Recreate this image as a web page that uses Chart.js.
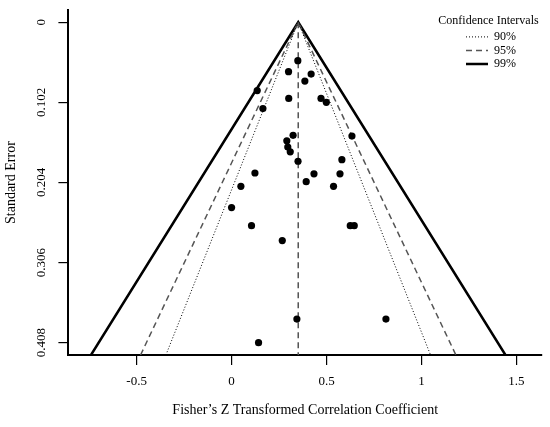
<!DOCTYPE html>
<html>
<head>
<meta charset="utf-8">
<script src="https://cdn.jsdelivr.net/npm/chart.js@4/dist/chart.umd.min.js"></script>
<style>
  body { margin: 0; background: #fff; }
  canvas { display: block; }
</style>
</head>
<body>
<canvas id="funnel" width="550" height="427"></canvas>
<script>
// study effects (Fisher's Z) and their standard errors
const effects = [0.349, 0.300, 0.419, 0.386, 0.135, 0.301, 0.471, 0.499, 0.165,
                 0.324, 0.291, 0.296, 0.309, 0.350, 0.634, 0.581, 0.123, 0.434,
                 0.571, 0.393, 0.049, 0.537, 0.000, 0.105, 0.625, 0.646, 0.267,
                 0.344, 0.813, 0.142];
const stdErrors = [0.049, 0.063, 0.066, 0.075, 0.087, 0.097, 0.097, 0.102, 0.110,
                   0.144, 0.151, 0.159, 0.165, 0.177, 0.145, 0.175, 0.192, 0.193,
                   0.193, 0.203, 0.209, 0.209, 0.236, 0.259, 0.259, 0.259, 0.278,
                   0.378, 0.378, 0.408];

const pooled = 0.351;                 // summary effect (funnel apex)
const ciLabels = ['90%', '95%', '99%'];
const ciZ = [1.645, 1.96, 2.576];

const xTicks = [-0.5, 0, 0.5, 1, 1.5];
const yTicks = [0, 0.102, 0.204, 0.306, 0.408];
const xMin = -0.8595, xMax = 1.635;
const yMin = -0.0153, yMax = 0.4237;

const serif = "'Liberation Serif', 'Times New Roman', serif";
Chart.defaults.color = '#000';
Chart.defaults.font.family = serif;

// funnel edges go from the bottom of the plot up to the apex and back down
function funnel(z) {
  return [
    { x: pooled - z * yMax, y: yMax },
    { x: pooled, y: 0 },
    { x: pooled + z * yMax, y: yMax }
  ];
}

const lineStyles = [
  { borderColor: '#000', borderWidth: 1, borderDash: [1, 2] },
  { borderColor: '#555', borderWidth: 1.5, borderDash: [6, 4] },
  { borderColor: '#000', borderWidth: 2.5, borderDash: [] }
];

const datasets = [
  {
    label: 'studies',
    data: effects.map((e, i) => ({ x: e, y: stdErrors[i] })),
    backgroundColor: '#000',
    borderWidth: 0,
    pointRadius: 3.6
  },
  {
    label: 'mean',
    data: [{ x: pooled, y: 0 }, { x: pooled, y: yMax }],
    showLine: true,
    borderColor: '#555',
    borderWidth: 1.5,
    borderDash: [6, 4],
    pointRadius: 0
  }
];
ciLabels.forEach((lab, i) => {
  datasets.push(Object.assign({
    label: lab,
    data: funnel(ciZ[i]),
    showLine: true,
    fill: false,
    pointRadius: 0
  }, lineStyles[i]));
});

// legend sits in the upper right corner of the plot, heading drawn above it
const legendPlacer = {
  id: 'legendPlacer',
  afterLayout(chart) {
    const lg = chart.legend;
    if (!lg) return;
    lg.left = 464.5;
    lg.right = 548;
    lg.width = lg.right - lg.left;
    lg.top = 29.4;
  },
  afterDraw(chart) {
    const ctx = chart.ctx;
    ctx.save();
    ctx.font = "12px " + serif;
    ctx.fillStyle = '#000';
    ctx.textAlign = 'center';
    ctx.textBaseline = 'middle';
    ctx.fillText('Confidence Intervals', 488.5, 21);
    ctx.restore();
  }
};

new Chart(document.getElementById('funnel'), {
  type: 'scatter',
  data: { datasets: datasets },
  plugins: [legendPlacer],
  options: {
    responsive: false,
    animation: false,
    layout: { padding: { top: 9, right: 8, bottom: 0, left: 0 } },
    scales: {
      x: {
        type: 'linear',
        min: xMin,
        max: xMax,
        afterBuildTicks: (scale) => { scale.ticks = xTicks.map(v => ({ value: v })); },
        ticks: {
          autoSkip: false,
          padding: 9,
          font: { size: 13 },
          callback: (v) => String(v)
        },
        grid: { drawOnChartArea: false, drawTicks: true, tickLength: 10, color: '#000', lineWidth: 1.2 },
        border: { display: true, color: '#000', width: 2 },
        title: {
          display: true,
          text: 'Fisher\u2019s Z Transformed Correlation Coefficient',
          font: { size: 14 },
          padding: { top: 3, bottom: 8.6 }
        }
      },
      y: {
        type: 'linear',
        reverse: true,
        min: yMin,
        max: yMax,
        afterBuildTicks: (scale) => { scale.ticks = yTicks.map(v => ({ value: v })); },
        ticks: {
          autoSkip: false,
          minRotation: 90,
          maxRotation: 90,
          crossAlign: 'center',
          padding: 2.4,
          font: { size: 13 },
          callback: (v) => String(v)
        },
        grid: { drawOnChartArea: false, drawTicks: true, tickLength: 10, color: '#000', lineWidth: 1.2 },
        border: { display: true, color: '#000', width: 2 },
        title: {
          display: true,
          text: 'Standard Error',
          font: { size: 14 },
          padding: { top: 3.1, bottom: 18.1 }
        }
      }
    },
    plugins: {
      tooltip: { enabled: false },
      legend: {
        position: 'chartArea',
        align: 'start',
        labels: {
          usePointStyle: true,
          pointStyleWidth: 22,
          padding: 1.5,
          font: { size: 12 },
          generateLabels: (chart) => chart.data.datasets.map((ds, i) => ({
            text: ds.label,
            datasetIndex: i,
            pointStyle: 'line',
            lineWidth: ds.borderWidth,
            lineDash: ds.borderDash,
            strokeStyle: ds.borderColor,
            fillStyle: ds.borderColor,
            fontColor: '#000',
            hidden: false
          })),
          filter: (item) => item.text.endsWith('%')
        }
      }
    }
  }
});
</script>
</body>
</html>
